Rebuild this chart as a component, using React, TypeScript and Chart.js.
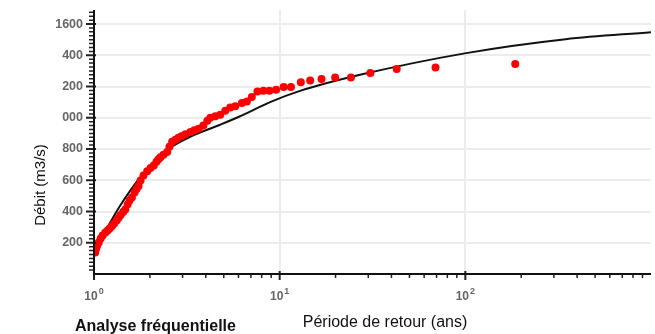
import React, { useEffect, useRef } from "react";
import { Chart, registerables } from "chart.js";

Chart.register(...registerables);

// Observed annual maxima: return period (years) and discharge (m3/s)
const obsReturnPeriod = [
  1.015, 1.028, 1.04, 1.06, 1.086, 1.113, 1.151, 1.185, 1.214, 1.249,
  1.284, 1.324, 1.357, 1.391, 1.435, 1.474, 1.517, 1.554, 1.6, 1.654,
  1.695, 1.738, 1.781, 1.848, 1.935, 2.016, 2.099, 2.171, 2.226, 2.28,
  2.367, 2.477, 2.549, 2.636, 2.745, 2.849, 2.956, 3.107, 3.304, 3.471,
  3.661, 3.88, 4.077, 4.231, 4.501, 4.787, 5.093, 5.418, 5.764, 6.26,
  6.66, 7.08, 7.59, 8.18, 8.81, 9.57, 10.5, 11.5, 13.0, 14.6,
  16.8, 19.9, 24.2, 30.8, 42.7, 69.1, 185.7,
];
const obsDischarge = [
  138, 164, 183, 202, 227, 247, 266, 279, 291, 306,
  323, 342, 360, 378, 397, 413, 445, 470, 489, 521,
  544, 563, 598, 630, 658, 678, 694, 719, 735, 747,
  764, 781, 815, 847, 860, 873, 882, 895, 909, 921,
  930, 950, 981, 1001, 1010, 1020, 1045, 1066, 1074, 1095,
  1105, 1133, 1169, 1173, 1173, 1180, 1197, 1197, 1227, 1239,
  1248, 1258, 1258, 1286, 1312, 1322, 1344,
];

// Fitted distribution curve
const fitReturnPeriod = [
  1.019, 1.077, 1.219, 1.379, 1.561, 1.766, 1.998, 2.262, 2.56, 3.276,
  4.746, 6.08, 8.88, 12.87, 27.1, 101, 347, 1000,
];
const fitDischarge = [
  154, 205, 326, 435, 531, 615, 691, 755, 807, 877,
  954, 1008, 1100, 1172, 1275, 1414, 1503, 1548,
];

const yTickValues = [200, 400, 600, 800, 1000, 1200, 1400, 1600];
const yTickLabels = ["200", "400", "600", "800", "000", "200", "400", "1600"];
const xTickValues = [1, 10, 100];
const xTickBase = "10";
const xTickExponents = ["0", "1", "2"];
const xMinorTicks = [2, 3, 4, 5, 6, 7, 8, 9, 20, 30, 40, 50, 60, 70, 80, 90, 200, 300, 400, 500, 600, 700, 800, 900];
const yMinorStep = 25;

const chartTitle = "Analyse fréquentielle";
const xTitle = "Période de retour (ans)";
const yTitle = "Débit (m3/s)";

const FONT = "'Liberation Sans', Arial, sans-serif";

const decorPlugin = {
  id: "decor",
  afterDraw(chart: any) {
    const { ctx, chartArea, scales } = chart;
    const xs = scales.x;
    const ys = scales.y;
    const left = chartArea.left;
    const bottom = chartArea.bottom;
    ctx.save();
    ctx.strokeStyle = "#222";
    // y minor ticks
    ctx.lineWidth = 1.5;
    ctx.beginPath();
    for (let v = yMinorStep; v < ys.max; v += yMinorStep) {
      if (yTickValues.includes(v)) continue;
      const y = ys.getPixelForValue(v);
      ctx.moveTo(left - 5, y);
      ctx.lineTo(left, y);
    }
    ctx.stroke();
    // y major ticks
    ctx.lineWidth = 2;
    ctx.beginPath();
    yTickValues.forEach((v) => {
      const y = ys.getPixelForValue(v);
      ctx.moveTo(left - 8, y);
      ctx.lineTo(left + 2, y);
    });
    ctx.stroke();
    // x minor ticks
    ctx.lineWidth = 1.5;
    ctx.beginPath();
    xMinorTicks.forEach((v) => {
      const x = xs.getPixelForValue(v);
      ctx.moveTo(x, bottom);
      ctx.lineTo(x, bottom + 4);
    });
    ctx.stroke();
    // x major ticks
    ctx.lineWidth = 2;
    ctx.beginPath();
    xTickValues.forEach((v) => {
      const x = xs.getPixelForValue(v);
      ctx.moveTo(x, bottom - 3);
      ctx.lineTo(x, bottom + 6);
    });
    ctx.stroke();
    // axis lines
    ctx.strokeStyle = "#111";
    ctx.lineWidth = 2;
    ctx.beginPath();
    ctx.moveTo(left, chartArea.top);
    ctx.lineTo(left, bottom);
    ctx.lineTo(chartArea.right, bottom);
    ctx.stroke();

    // x tick labels (power of ten with superscript)
    ctx.fillStyle = "#666";
    ctx.textBaseline = "alphabetic";
    ctx.textAlign = "left";
    xTickValues.forEach((v, i) => {
      const x = xs.getPixelForValue(v);
      ctx.font = `bold 12px ${FONT}`;
      const wBase = ctx.measureText(xTickBase).width;
      ctx.font = `bold 9px ${FONT}`;
      const wExp = ctx.measureText(xTickExponents[i]).width;
      const start = x - (wBase + 1 + wExp) / 2;
      ctx.font = `bold 12px ${FONT}`;
      ctx.fillText(xTickBase, start, bottom + 25.5);
      ctx.font = `bold 9px ${FONT}`;
      ctx.fillText(xTickExponents[i], start + wBase + 1, bottom + 20);
    });

    // titles
    ctx.fillStyle = "#111";
    ctx.font = `16px ${FONT}`;
    ctx.textAlign = "center";
    ctx.textBaseline = "alphabetic";
    ctx.fillText(xTitle, 385, 327);

    ctx.save();
    ctx.translate(45, 185);
    ctx.rotate(-Math.PI / 2);
    ctx.font = `15px ${FONT}`;
    ctx.fillText(yTitle, 0, 0);
    ctx.restore();

    ctx.textAlign = "left";
    ctx.font = `bold 16px ${FONT}`;
    ctx.fillText(chartTitle, 75, 331);
    ctx.restore();
  },
};

export default function App() {
  const canvasRef = useRef<HTMLCanvasElement | null>(null);

  useEffect(() => {
    const canvas = canvasRef.current;
    if (!canvas) return;
    const chart = new Chart(canvas, {
      type: "scatter",
      data: {
        datasets: [
          {
            label: "Observations",
            data: obsReturnPeriod.map((t, i) => ({ x: t, y: obsDischarge[i] })),
            backgroundColor: "#ff0000",
            borderColor: "#ff0000",
            borderWidth: 0,
            pointRadius: 4,
            pointHoverRadius: 4,
            clip: 0,
            order: 0,
          },
          {
            label: "Ajustement",
            data: fitReturnPeriod.map((t, i) => ({ x: t, y: fitDischarge[i] })),
            showLine: true,
            borderColor: "#111",
            backgroundColor: "#111",
            borderWidth: 2,
            pointRadius: 0,
            cubicInterpolationMode: "monotone",
            clip: 0,
            order: 1,
          } as any,
        ],
      },
      options: {
        responsive: false,
        animation: false,
        layout: { padding: { top: 10, right: 2, left: 0, bottom: 0 } },
        plugins: {
          legend: { display: false },
          tooltip: { enabled: false },
          title: { display: false },
        },
        scales: {
          x: {
            type: "logarithmic",
            min: 1,
            max: 1000,
            afterBuildTicks: (scale: any) => {
              scale.ticks = xTickValues.map((v) => ({ value: v }));
            },
            afterFit: (scale: any) => {
              scale.height = 60;
              scale.paddingLeft = 0;
              scale.paddingRight = 0;
            },
            grid: { color: "#ececec", lineWidth: 2, drawTicks: false },
            border: { display: false },
            ticks: { display: false, autoSkip: false, maxRotation: 0 },
          },
          y: {
            type: "linear",
            min: 0,
            max: 1690,
            afterBuildTicks: (scale: any) => {
              scale.ticks = yTickValues.map((v) => ({ value: v }));
            },
            afterFit: (scale: any) => {
              scale.width = 94;
              scale.paddingTop = 0;
              scale.paddingBottom = 0;
            },
            grid: { color: "#ececec", lineWidth: 2, drawTicks: false },
            border: { display: false },
            ticks: {
              padding: 11,
              color: "#666",
              font: { family: FONT, size: 12.5, weight: "bold" },
              callback: (value: any) => {
                const i = yTickValues.indexOf(Number(value));
                return i >= 0 ? yTickLabels[i] : "";
              },
            },
          },
        },
      } as any,
      plugins: [decorPlugin],
    });
    return () => chart.destroy();
  }, []);

  return (
    <div style={{ position: "absolute", left: 0, top: 0, width: 655, height: 334, background: "#fff" }}>
      <canvas ref={canvasRef} width={655} height={334} style={{ width: 655, height: 334, display: "block" }} />
    </div>
  );
}
